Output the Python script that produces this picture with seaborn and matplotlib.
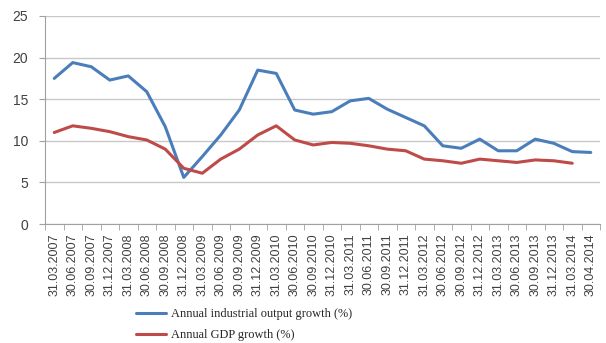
import numpy as np
import pandas as pd
import matplotlib
matplotlib.use("Agg")
import matplotlib.pyplot as plt
import seaborn as sns

dates = ["31.03.2007", "30.06.2007", "30.09.2007", "31.12.2007", "31.03.2008", "30.06.2008",
         "30.09.2008", "31.12.2008", "31.03.2009", "30.06.2009", "30.09.2009", "31.12.2009",
         "31.03.2010", "30.06.2010", "30.09.2010", "31.12.2010", "31.03.2011", "30.06.2011",
         "30.09.2011", "31.12.2011", "31.03.2012", "30.06.2012", "30.09.2012", "31.12.2012",
         "31.03.2013", "30.06.2013", "30.09.2013", "31.12.2013", "31.03.2014", "30.04.2014"]

industrial = [17.5, 19.4, 18.9, 17.3, 17.8, 15.9, 11.7, 5.6, 8.1, 10.7, 13.7, 18.5,
              18.1, 13.7, 13.2, 13.5, 14.8, 15.1, 13.8, 12.8, 11.8, 9.4, 9.1, 10.2,
              8.8, 8.8, 10.2, 9.7, 8.7, 8.6]
gdp = [11.0, 11.8, 11.5, 11.1, 10.5, 10.1, 9.0, 6.7, 6.1, 7.8, 9.0, 10.7,
       11.8, 10.1, 9.5, 9.8, 9.7, 9.4, 9.0, 8.8, 7.8, 7.6, 7.3, 7.8,
       7.6, 7.4, 7.7, 7.6, 7.3, np.nan]

s1 = "Annual industrial output growth (%)"
s2 = "Annual GDP growth (%)"

sns.set_style("white")
plt.rcParams['font.family'] = ['Liberation Sans', 'DejaVu Sans']

idx = np.arange(len(dates))
df = pd.DataFrame({
    "x": np.concatenate([idx, idx]),
    "value": industrial + gdp,
    "series": [s1] * len(dates) + [s2] * len(dates),
})

fig = plt.figure(figsize=(6.06, 3.43), dpi=100)
ax = fig.add_axes([45 / 606, 1 - 224 / 343, 555 / 606, 208 / 343])

sns.lineplot(data=df, x="x", y="value", hue="series",
             palette={s1: "#4a7ebb", s2: "#be4b48"}, linewidth=2.2,
             ax=ax, legend=False, sort=False)

ax.set_xlim(-0.5, len(dates) - 0.5)
ax.set_ylim(0, 25)
ax.set_yticks([0, 5, 10, 15, 20, 25])
ax.yaxis.grid(True, color="#c8c8c8", linewidth=1)
ax.set_axisbelow(True)
ax.set_xlabel("")
ax.set_ylabel("")

ax.set_xticks(idx)
ax.set_xticklabels(dates, rotation=90, fontsize=9, color="#404040")
ax.set_xticks(np.arange(-0.5, len(dates)), minor=True)
ax.tick_params(axis="x", which="major", length=0, pad=7)
ax.tick_params(axis="x", which="minor", length=4, color="#a0a0a0", direction="out")
ax.tick_params(axis="y", length=4, color="#a0a0a0", labelsize=10, labelcolor="#404040", pad=8)
ax.yaxis.set_ticks_position("left")
ax.xaxis.set_ticks_position("bottom")

for sp in ["top", "right"]:
    ax.spines[sp].set_visible(False)
ax.spines["left"].set_color("#a0a0a0")
ax.spines["bottom"].set_color("#a0a0a0")

from matplotlib.lines import Line2D
handles = [Line2D([], [], color="#4a7ebb", linewidth=2.2),
           Line2D([], [], color="#be4b48", linewidth=2.2)]
fig.legend(handles, [s1, s2], loc="upper left", bbox_to_anchor=(130 / 606, 1 - 302 / 343),
           frameon=False, prop={"family": "Liberation Serif", "size": 8.9},
           handlelength=2.4, handletextpad=0.4, labelspacing=0.75, borderpad=0)

fig.savefig("out.png", dpi=100)
